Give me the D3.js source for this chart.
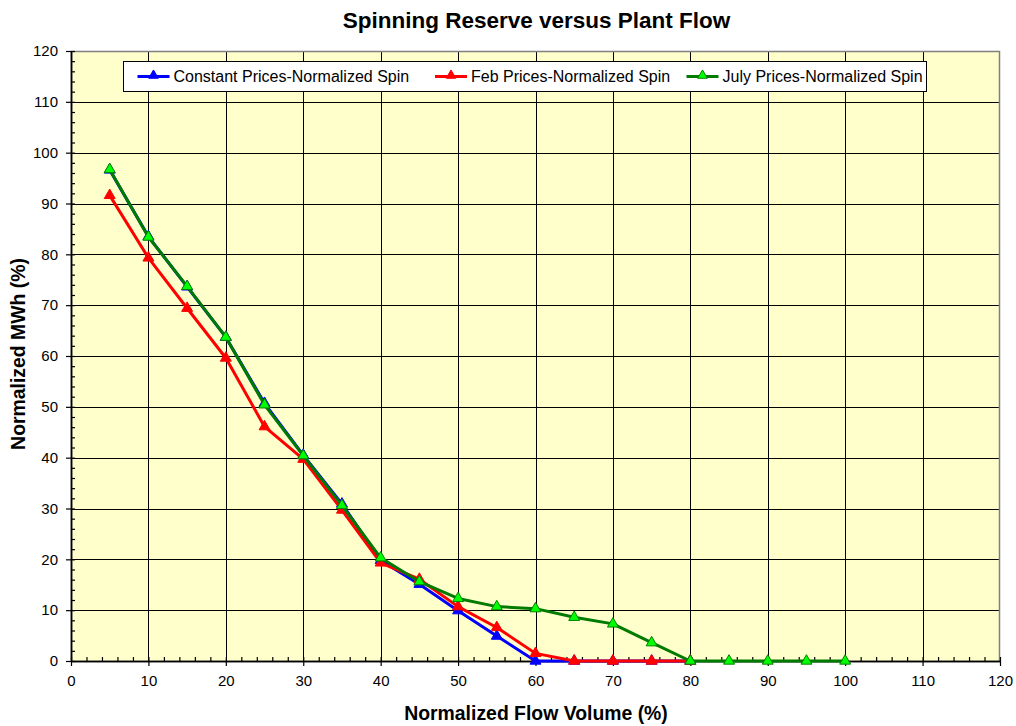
<!DOCTYPE html>
<html>
<head>
<meta charset="utf-8">
<script src="https://cdn.jsdelivr.net/npm/d3@7"></script>
<style>
  html, body { margin: 0; padding: 0; background: #fff; }
  svg { display: block; font-family: "Liberation Sans", Arial, sans-serif; }
</style>
</head>
<body>
<svg id="chart" width="1016" height="726"></svg>
<script>
// ---- Data ----
const title = "Spinning Reserve versus Plant Flow";
const xLabel = "Normalized Flow Volume (%)";
const yLabel = "Normalized MWh (%)";
const flow = [5, 10, 15, 20, 25, 30, 35, 40, 45, 50, 55, 60, 65, 70, 75, 80, 85, 90, 95, 100];
const constantSpin = [96.6, 83.5, 73.6, 63.7, 50.7, 40.5, 30.9, 19.8, 15.1, 9.9, 4.9, 0, 0, 0, 0, 0];
const febSpin = [91.6, 79.3, 69.4, 59.6, 46.1, 39.7, 29.7, 19.3, 16.1, 10.7, 6.6, 1.5, 0, 0, 0, 0];
const julySpin = [96.7, 83.4, 73.7, 63.7, 50.4, 40.4, 30.6, 20.3, 15.6, 12.3, 10.7, 10.3, 8.6, 7.3, 3.6, 0, 0, 0, 0, 0];
const seriesNames = ["Constant Prices-Normalized Spin", "Feb Prices-Normalized Spin", "July Prices-Normalized Spin"];
const xTicks = [0, 10, 20, 30, 40, 50, 60, 70, 80, 90, 100, 110, 120];
const yTicks = [0, 10, 20, 30, 40, 50, 60, 70, 80, 90, 100, 110, 120];

// ---- Layout ----
const svg = d3.select("#chart");
const L = 71, R = 1000, T = 51, B = 661;
const x = d3.scaleLinear().domain([0, 120]).range([L, R]);
const y = d3.scaleLinear().domain([0, 120]).range([B, T]);

const styles = [
  { line: "#0000FF", fill: "#0000FF", stroke: "#0000FF" },
  { line: "#FF0000", fill: "#FF0000", stroke: "#FF0000" },
  { line: "#007A00", fill: "#00FF00", stroke: "#008000" }
];
const seriesData = [constantSpin, febSpin, julySpin].map(vals => vals.map((v, i) => ({ x: flow[i], y: v })));

// Plot background
svg.append("rect").attr("x", L).attr("y", T).attr("width", R - L).attr("height", B - T)
  .attr("fill", "#FFFFCC");

// Grid lines
const grid = svg.append("g").attr("stroke", "#000").attr("stroke-width", 1).attr("shape-rendering", "crispEdges");
xTicks.filter(t => t > 0 && t < 120).forEach(t => {
  grid.append("line").attr("x1", Math.round(x(t)) + 0.5).attr("x2", Math.round(x(t)) + 0.5).attr("y1", T).attr("y2", B);
});
yTicks.filter(t => t > 0 && t < 120).forEach(t => {
  grid.append("line").attr("y1", Math.round(y(t)) + 0.5).attr("y2", Math.round(y(t)) + 0.5).attr("x1", L).attr("x2", R);
});

// Top / right border (grey)
svg.append("path").attr("d", `M${L},${T + 0.5}H${R - 0.5}V${B}`)
  .attr("fill", "none").attr("stroke", "#808080").attr("stroke-width", 1.5);

// Axes
const xAxis = svg.append("g").attr("transform", `translate(0,${B})`)
  .call(d3.axisBottom(x).tickValues(xTicks).tickSize(5).tickSizeOuter(0).tickPadding(12));
const xMinor = svg.append("g").attr("transform", `translate(0,${B})`)
  .call(d3.axisBottom(x).tickValues(d3.range(0, 121, 2)).tickSize(-4).tickSizeOuter(0).tickFormat(""));
const yAxis = svg.append("g").attr("transform", `translate(${L},0)`)
  .call(d3.axisLeft(y).tickValues(yTicks).tickSize(5).tickSizeOuter(0).tickPadding(8));
const yMinor = svg.append("g").attr("transform", `translate(${L},0)`)
  .call(d3.axisLeft(y).tickValues(d3.range(0, 121, 2)).tickSize(-4).tickSizeOuter(0).tickFormat(""));

[xAxis, xMinor, yAxis, yMinor].forEach(g => {
  g.select(".domain").attr("stroke", "#000").attr("stroke-width", 1.5);
  g.selectAll(".tick line").attr("stroke", "#000").attr("stroke-width", 1.2);
  g.selectAll(".tick text").attr("font-size", 15).attr("fill", "#000")
    .attr("font-family", "'Liberation Sans', Arial, sans-serif");
});
xAxis.selectAll(".tick text").attr("dy", "0.55em");

// Lines and markers
const lineGen = d3.line().x(d => x(d.x)).y(d => y(d.y));
const tri = d3.symbol().type(d3.symbolTriangle).size(52);
seriesData.forEach((data, i) => {
  svg.append("path").datum(data).attr("d", lineGen)
    .attr("fill", "none").attr("stroke", styles[i].line).attr("stroke-width", 3)
    .attr("stroke-linejoin", "round");
  svg.append("g").selectAll("path").data(data).join("path")
    .attr("d", tri)
    .attr("transform", d => `translate(${x(d.x)},${y(d.y)})`)
    .attr("fill", styles[i].fill).attr("stroke", styles[i].stroke).attr("stroke-width", 1);
});

// Legend
const lg = svg.append("g");
lg.append("rect").attr("x", 123.5).attr("y", 61.5).attr("width", 803).attr("height", 30)
  .attr("fill", "#fff").attr("stroke", "#000").attr("stroke-width", 1);
const legendX = [137.5, 435, 686.5];
seriesNames.forEach((name, i) => {
  const gx = legendX[i], gy = 76.5;
  lg.append("line").attr("x1", gx).attr("x2", gx + 32).attr("y1", gy).attr("y2", gy)
    .attr("stroke", styles[i].line).attr("stroke-width", 3);
  lg.append("path").attr("d", d3.symbol().type(d3.symbolTriangle).size(40)())
    .attr("transform", `translate(${gx + 16},${gy - 1})`)
    .attr("fill", styles[i].fill).attr("stroke", styles[i].stroke).attr("stroke-width", 1);
  lg.append("text").attr("x", gx + 36).attr("y", gy + 5.5).attr("font-size", 16).attr("fill", "#000")
    .text(name);
});

// Titles
svg.append("text").attr("x", 536.5).attr("y", 28).attr("text-anchor", "middle")
  .attr("font-size", 22.5).attr("font-weight", "bold").attr("fill", "#000").text(title);
svg.append("text").attr("x", 536).attr("y", 720).attr("text-anchor", "middle")
  .attr("font-size", 19.4).attr("font-weight", "bold").attr("fill", "#000").text(xLabel);
svg.append("text").attr("transform", "translate(25,354) rotate(-90)").attr("text-anchor", "middle")
  .attr("font-size", 19.4).attr("font-weight", "bold").attr("fill", "#000").text(yLabel);
</script>
</body>
</html>
